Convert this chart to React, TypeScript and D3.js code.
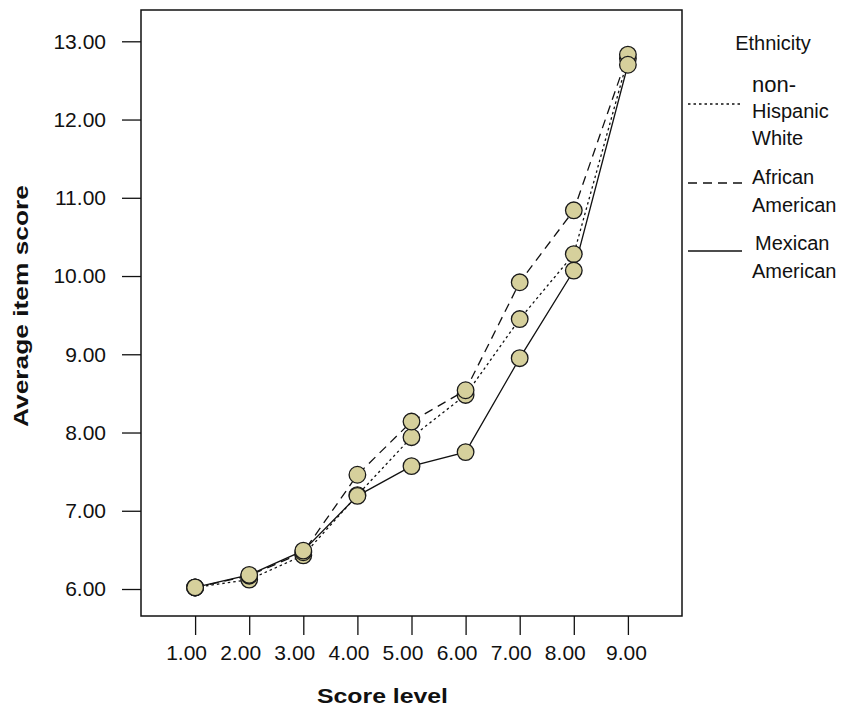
import { useEffect, useRef } from "react";
import * as d3 from "d3";

const scoreLevels = [1, 2, 3, 4, 5, 6, 7, 8, 9];
const whiteScores = [6.02, 6.12, 6.43, 7.2, 7.94, 8.48, 9.45, 10.28, 12.78];
const africanScores = [6.02, 6.17, 6.47, 7.46, 8.14, 8.54, 9.92, 10.84, 12.83];
const mexicanScores = [6.02, 6.18, 6.49, 7.19, 7.57, 7.75, 8.95, 10.07, 12.7];
const yTicks = [6, 7, 8, 9, 10, 11, 12, 13];

const series = [
  { name: ["non-", "Hispanic", "White"], values: whiteScores, dash: "2.5,3" },
  { name: ["African", "American"], values: africanScores, dash: "9,6" },
  { name: ["Mexican", "American"], values: mexicanScores, dash: null },
];

const App = () => {
  const chartRef = useRef(null);

  useEffect(() => {
    document.body.style.margin = "0";
    const width = 848;
    const height = 708;
    const svg = d3
      .select(chartRef.current)
      .append("svg")
      .attr("width", width)
      .attr("height", height)
      .style("font-family", "'Liberation Sans', Arial, sans-serif");

    const plot = { left: 141, right: 682, top: 10, bottom: 616 };

    const x = d3.scaleLinear().domain([0, 10]).range([plot.left, plot.right]);
    const y = d3.scaleLinear().domain([5.655, 13.4]).range([plot.bottom, plot.top]);

    // y axis
    const yAxis = svg
      .append("g")
      .attr("transform", `translate(${plot.left},0)`)
      .call(d3.axisLeft(y).tickValues(yTicks).tickSize(19).tickPadding(16).tickFormat(d3.format(".2f")));
    yAxis.select(".domain").remove();
    yAxis.selectAll("line").attr("stroke", "#111").attr("stroke-width", 1.3);
    yAxis.selectAll("text").style("font-size", "21px").attr("fill", "#111");

    // x axis
    const xAxis = svg
      .append("g")
      .attr("transform", `translate(0,${plot.bottom})`)
      .call(d3.axisBottom(x).tickValues(scoreLevels).tickSize(19).tickPadding(10).tickFormat(d3.format(".2f")));
    xAxis.select(".domain").remove();
    xAxis.selectAll("line").attr("stroke", "#111").attr("stroke-width", 1.3);
    xAxis
      .selectAll("text")
      .style("font-size", "21px")
      .attr("fill", "#111")
      .attr("dx", (d, i) => (i === scoreLevels.length - 1 ? -2 : -9));

    // frame
    svg
      .append("rect")
      .attr("x", plot.left)
      .attr("y", plot.top)
      .attr("width", plot.right - plot.left)
      .attr("height", plot.bottom - plot.top)
      .attr("fill", "none")
      .attr("stroke", "#111")
      .attr("stroke-width", 1.5);

    // axis titles
    svg
      .append("text")
      .attr("x", 382.5)
      .attr("y", 703)
      .attr("text-anchor", "middle")
      .attr("textLength", 131)
      .attr("lengthAdjust", "spacingAndGlyphs")
      .style("font-size", "21px")
      .style("font-weight", "bold")
      .attr("fill", "#111")
      .text("Score level");

    svg
      .append("text")
      .attr("transform", "translate(28,306) rotate(-90)")
      .attr("text-anchor", "middle")
      .attr("textLength", 242)
      .attr("lengthAdjust", "spacingAndGlyphs")
      .style("font-size", "21px")
      .style("font-weight", "bold")
      .attr("fill", "#111")
      .text("Average item score");

    const line = d3
      .line()
      .x((d, i) => x(scoreLevels[i]))
      .y((d) => y(d));

    series.forEach((s) => {
      svg
        .append("path")
        .datum(s.values)
        .attr("d", line)
        .attr("fill", "none")
        .attr("stroke", "#111")
        .attr("stroke-width", 1.3)
        .attr("stroke-dasharray", s.dash);
    });

    series.forEach((s) => {
      svg
        .append("g")
        .selectAll("circle")
        .data(s.values)
        .enter()
        .append("circle")
        .attr("cx", (d, i) => x(scoreLevels[i]))
        .attr("cy", (d) => y(d))
        .attr("r", 8.3)
        .attr("fill", "#d6d09c")
        .attr("stroke", "#1a1a1a")
        .attr("stroke-width", 1.3);
    });

    // legend
    const legend = svg.append("g");
    legend
      .append("text")
      .attr("x", 773)
      .attr("y", 50)
      .attr("text-anchor", "middle")
      .style("font-size", "20px")
      .attr("fill", "#111")
      .text("Ethnicity");

    const legendLines = [104, 183, 251];
    const legendText = [
      [92, 118, 145],
      [184, 212],
      [250, 278],
    ];
    series.forEach((s, i) => {
      legend
        .append("line")
        .attr("x1", 688)
        .attr("x2", 742)
        .attr("y1", legendLines[i])
        .attr("y2", legendLines[i])
        .attr("stroke", "#111")
        .attr("stroke-width", 1.3)
        .attr("stroke-dasharray", s.dash);
      s.name.forEach((t, j) => {
        legend
          .append("text")
          .attr("x", i === 2 && j === 0 ? 755 : 752)
          .attr("y", legendText[i][j])
          .style("font-size", i === 0 && j === 0 ? "22px" : "20px")
          .attr("fill", "#111")
          .text(t);
      });
    });

    return () => {
      svg.remove();
    };
  }, []);

  return <div ref={chartRef}></div>;
};

export default App;
